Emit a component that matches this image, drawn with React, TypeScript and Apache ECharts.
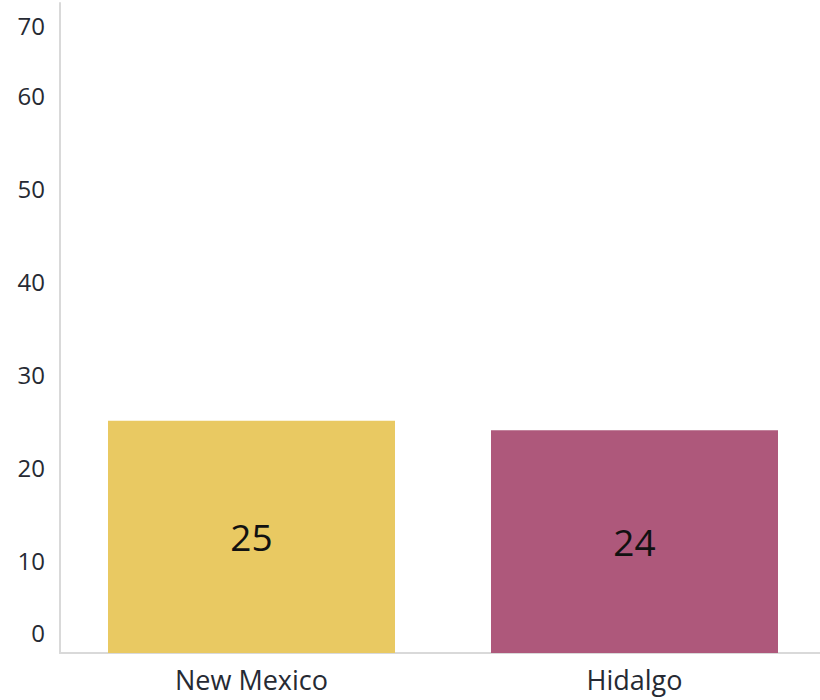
import React, { useEffect, useRef } from "react";
import * as echarts from "echarts";

const categories = ["New Mexico", "Hidalgo"];
const values = [25, 24];
const barColors = ["#E9C962", "#AE587B"];
const yTicks = [0, 10, 20, 30, 40, 50, 60, 70];

export default function App() {
  const ref = useRef<HTMLDivElement>(null);
  useEffect(() => {
    document.body.style.margin = "0";
    const chart = echarts.init(ref.current!, null, { renderer: "svg" });
    const font = "'Open Sans', sans-serif";
    const textColor = "#262a33";
    chart.setOption({
      animation: false,
      grid: { left: 60, width: 766, top: 3, bottom: 47, containLabel: false, outerBoundsMode: "none" },
      xAxis: {
        type: "category",
        data: categories,
        axisLine: { show: true, lineStyle: { color: "#d9d9d9", width: 2 } },
        axisTick: { show: false },
        axisLabel: { color: textColor, fontSize: 27, fontFamily: font, margin: 13 },
      },
      yAxis: {
        type: "value",
        min: yTicks[0],
        max: yTicks[yTicks.length - 1],
        interval: 10,
        splitLine: { show: false },
        axisLine: { show: true, lineStyle: { color: "#d9d9d9", width: 2 } },
        axisTick: { show: false },
        axisLabel: {
          color: textColor,
          fontSize: 24,
          fontFamily: font,
          margin: 15,
          formatter: (v: number) => {
            if (v === yTicks[0]) return "{lo|" + v + "}";
            if (v === yTicks[yTicks.length - 1]) return "{hi|" + v + "}";
            return String(v);
          },
          rich: {
            lo: { color: textColor, fontSize: 24, fontFamily: font, padding: [0, 0, 42, 0] },
            hi: { color: textColor, fontSize: 24, fontFamily: font, padding: [44, 0, 0, 0] },
          },
        },
      },
      series: [
        {
          type: "bar",
          barWidth: 287,
          data: values.map((v, i) => ({ value: v, itemStyle: { color: barColors[i] } })),
          label: {
            show: true,
            position: "inside",
            color: "#111111",
            fontSize: 37,
            fontFamily: font,
          },
        },
      ],
    });
    return () => chart.dispose();
  }, []);
  return <div ref={ref} style={{ width: 820, height: 700 }} />;
}
